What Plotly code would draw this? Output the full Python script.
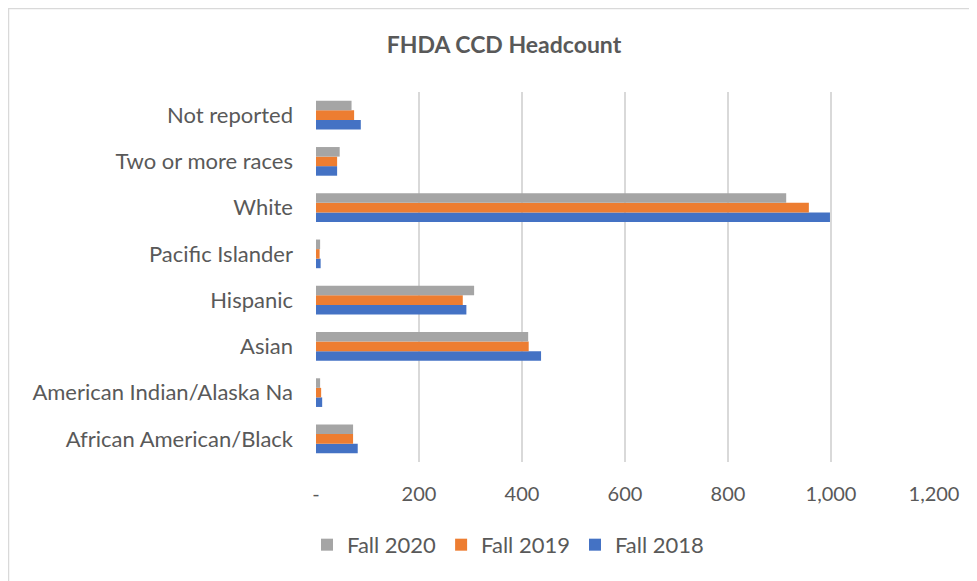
import plotly.graph_objects as go

# ─── data ─────────────────────────────────────────────────────────────────────
categories = [
    "African American/Black",
    "American Indian/Alaska Na",
    "Asian",
    "Hispanic",
    "Pacific Islander",
    "White",
    "Two or more races",
    "Not reported",
]
fall_2018 = [81, 12, 437, 292, 9, 998, 41, 87]
fall_2019 = [72, 10, 413, 285, 7, 957, 41, 74]
fall_2020 = [72, 8, 412, 307, 8, 913, 46, 69]

tick_vals = [0, 200, 400, 600, 800, 1000, 1200]
tick_text = ["-", "200", "400", "600", "800", "1,000", "1,200"]

FONT = "Lato, Carlito, Calibri, sans-serif"
TXT = "#595959"

# page body has an 8px margin, so the figure is shrunk by that amount
W, H = 969, 573

fig = go.Figure()
# plotly stacks horizontal groups bottom-up, so 2018 goes first
for name, vals, color in [
    ("Fall 2018", fall_2018, "#4472C4"),
    ("Fall 2019", fall_2019, "#ED7D31"),
    ("Fall 2020", fall_2020, "#A5A5A5"),
]:
    fig.add_trace(go.Bar(
        name=name, y=categories, x=vals, orientation="h",
        marker=dict(color=color, line=dict(width=0)),
    ))

fig.update_layout(
    width=W, height=H,
    barmode="group", bargap=0.38, bargroupgap=0,
    paper_bgcolor="white", plot_bgcolor="white",
    font=dict(family=FONT, color=TXT, size=22),
    margin=dict(l=308, r=43, t=84, b=119, autoexpand=False),
    title=dict(text="<b>FHDA CCD Headcount</b>", x=496 / W, xanchor="center",
               y=1 - 37 / H, yanchor="middle",
               font=dict(family=FONT, size=23, color=TXT)),
    legend=dict(orientation="h", traceorder="reversed",
                xref="container", x=500 / W, xanchor="center",
                y=-0.224, yanchor="middle", font=dict(size=22, color=TXT),
                itemwidth=30),
    showlegend=True,
    shapes=[dict(type="rect", xref="paper", yref="paper",
                 x0=-0.4976, x1=1.2, y0=-0.4, y1=1.2257,
                 line=dict(color="#d9d9d9", width=1.5), layer="below")],
)
fig.update_xaxes(range=[0, 1200], tickvals=tick_vals, ticktext=tick_text,
                 showgrid=True, gridcolor="#d9d9d9", gridwidth=2,
                 zeroline=False, showline=False, ticks="",
                 ticklabelstandoff=18, tickfont=dict(size=20, color=TXT))
fig.update_yaxes(showgrid=False, zeroline=False, showline=False, ticks="",
                 ticklabelstandoff=22, tickfont=dict(size=22, color=TXT))

fig.write_html("out.html")
